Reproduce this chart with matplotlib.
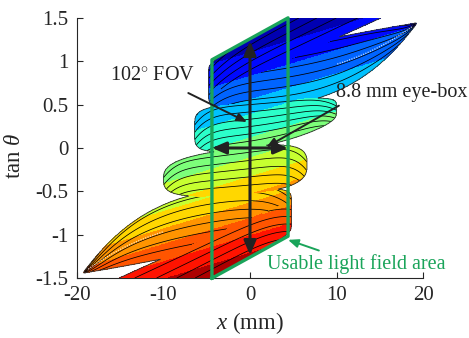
import numpy as np
import matplotlib
matplotlib.use("Agg")
import matplotlib.pyplot as plt
from matplotlib.colors import ListedColormap

plt.rcParams["font.family"] = "Liberation Serif"
plt.rcParams["mathtext.fontset"] = "custom"
plt.rcParams["mathtext.rm"] = "Liberation Serif"
plt.rcParams["mathtext.it"] = "Liberation Serif:italic"

# ── elemental light-field patches (x in mm, y = tan(theta)) ─────────────────
# each patch runs from a blunt end to a far end; edges given as [low, high]
# order = drawing order (later ones sit on top)
patch_x_blunt = [-4.8, -4.8, 4.8, 4.8, -10.0, -6.4]
patch_x_far   = [19.2, 22.0, -19.2, -22.0, 6.6, 10.0]
patch_lo_blunt = [0.46, 0.60, -1.00, -0.996, -0.60, -0.06]
patch_hi_blunt = [1.00, 0.996, -0.46, -0.60, -0.12, 0.47]
patch_lo_far = [1.42, 1.81, -1.45, -2.47, -0.47, 0.30]
patch_hi_far = [1.45, 2.47, -1.42, -1.81, 0.10, 0.60]
patch_k_lo = [3.3, 1.0, 1.0, 1.0, 1.0, 2.0]
patch_k_hi = [1.0, 1.0, 3.3, 1.0, 1.0, 1.0]
patch_round = [8, 8, 8, 8, 3, 5]
patch_colour_shift = [0.0, 0.0, 0.0, 0.0, -0.1, -0.1]

# colour field: tan(theta) - shear * x, banded (jet positions per band)
shear = 0.03
band_edges = [-1.2, -1.0, -0.8, -0.62, -0.42, -0.2, 0.03, 0.30, 0.57, 0.84, 1.11]
band_jet = [0.96, 0.89, 0.82, 0.75, 0.68, 0.59, 0.50, 0.405, 0.315, 0.225, 0.135, 0.045]

# eye-box / field of view
eyebox = 8.8            # mm
fov_deg = 102.0
lf_half = 1.26          # usable light-field parallelogram, half height at x=0
lf_slope = 0.055

# ── grid ────────────────────────────────────────────────────────────────────
xg = np.linspace(-20, 20, 900)
yg = np.linspace(-1.5, 1.5, 700)
X, Y = np.meshgrid(xg, yg)

n_band = len(band_jet)
jet = plt.get_cmap("jet")
cmap = ListedColormap([jet(p) for p in band_jet])
band_levels = np.arange(-0.5, n_band, 1.0)

fig = plt.figure(figsize=(4.69, 3.38), dpi=100)
ax = fig.add_axes([77 / 469, 60 / 338, 346 / 469, 260 / 338])

union = np.zeros_like(X, dtype=bool)
for i in range(len(patch_x_blunt)):
    xb, xf = patch_x_blunt[i], patch_x_far[i]
    tau = (X - xb) / (xf - xb)
    in_x = (tau >= 0) & (tau <= 1)
    tc = np.clip(tau, 0, 1)
    lo = patch_lo_blunt[i] + (patch_lo_far[i] - patch_lo_blunt[i]) * tc ** patch_k_lo[i]
    hi = patch_hi_blunt[i] + (patch_hi_far[i] - patch_hi_blunt[i]) * tc ** patch_k_hi[i]
    v = (Y - lo) / np.maximum(hi - lo, 1e-4)
    xi = 2 * tc - 1
    r = patch_round[i]
    shape = np.abs(xi) ** r + np.abs(2 * v - 1) ** r
    inside = in_x & (shape < 1)
    union |= inside
    band = np.digitize(Y - shear * X + patch_colour_shift[i], band_edges).astype(float)
    G = v + 0.35 * np.abs(xi) ** 6
    z = 2 + i
    ax.contourf(X, Y, np.ma.masked_where(~inside, band), levels=band_levels,
                cmap=cmap, vmin=-0.5, vmax=n_band - 0.5, zorder=z)
    dv = 0.085 / (patch_hi_blunt[i] - patch_lo_blunt[i])
    ax.contour(X, Y, np.ma.masked_where(~inside, G),
               levels=np.arange(dv, 1.4, dv), colors="k",
               linewidths=0.55, zorder=z + 0.5)
    if patch_k_lo[i] > 3 or patch_k_hi[i] > 3:
        # faint light streak along the horn of the long patches
        ts = np.linspace(0.62, 0.985, 40)
        xs = xb + (xf - xb) * ts
        ys = 0.5 * (patch_lo_blunt[i] + (patch_lo_far[i] - patch_lo_blunt[i]) * ts ** patch_k_lo[i]
                    + patch_hi_blunt[i] + (patch_hi_far[i] - patch_hi_blunt[i]) * ts ** patch_k_hi[i])
        ax.plot(xs, ys, color="white", lw=0.9, ls=(0, (1, 1)), alpha=0.75, zorder=z + 0.6)

ax.contour(X, Y, union.astype(float), levels=[0.5], colors="#333333",
           linewidths=0.6, zorder=9)

# usable light field area
green = "#1aa45a"
px = np.array([-eyebox / 2, -eyebox / 2, eyebox / 2, eyebox / 2, -eyebox / 2])
py = np.array([-lf_half, lf_half, lf_half, -lf_half, -lf_half]) + lf_slope * px
ax.plot(px, py, color=green, lw=2.4, zorder=10, clip_on=False)

# FOV and eye-box arrows
t = np.tan(np.radians(fov_deg / 2))
dark = "#222222"
ax.annotate("", xy=(0, t), xytext=(0, -t),
            arrowprops=dict(arrowstyle="<|-|>,head_length=0.7,head_width=0.3",
                            color=dark, lw=2.2, mutation_scale=12,
                            shrinkA=0, shrinkB=0), zorder=11)
ax.annotate("", xy=(eyebox / 2, 0), xytext=(-eyebox / 2, 0),
            arrowprops=dict(arrowstyle="<|-|>,head_length=0.7,head_width=0.3",
                            color=dark, lw=2.2, mutation_scale=12,
                            shrinkA=0, shrinkB=0), zorder=11)

ax.annotate("102$^{\\circ}$ FOV", xy=(-0.35, 0.30), xytext=(-11.3, 0.84),
            fontsize=14.5, ha="center", va="center", color="#222222",
            arrowprops=dict(arrowstyle="-|>,head_length=0.6,head_width=0.25",
                            color=dark, lw=1.4, mutation_scale=10,
                            shrinkA=9, shrinkB=0), zorder=12)
ax.annotate("8.8 mm eye-box", xy=(1.9, 0.01), xytext=(9.9, 0.646),
            fontsize=14.5, ha="left", va="center", color="#222222",
            arrowprops=dict(arrowstyle="-|>,head_length=0.6,head_width=0.25",
                            color=dark, lw=1.4, mutation_scale=10,
                            shrinkA=2, shrinkB=0, relpos=(0.08, 0)), zorder=12)
ax.annotate("Usable light field area", xy=(4.4, -1.06), xytext=(1.97, -1.34),
            fontsize=14.5, ha="left", va="center", color=green,
            arrowprops=dict(arrowstyle="-|>,head_length=0.6,head_width=0.25",
                            color=green, lw=1.4, mutation_scale=10,
                            shrinkA=2, shrinkB=0, relpos=(0.35, 1.0)), zorder=12)

ax.set_xlim(-20, 20)
ax.set_ylim(-1.5, 1.5)
ax.set_xticks([-20, -10, 0, 10, 20])
ax.set_xticklabels(["-20", "-10", "0", "10", "20"])
ax.set_yticks([-1.5, -1, -0.5, 0, 0.5, 1, 1.5])
ax.set_yticklabels(["-1.5", "-1", "-0.5", "0", "0.5", "1", "1.5"])
ax.tick_params(direction="in", length=4, width=0.8, labelsize=15,
               colors="#262626", pad=6)
for side in ("top", "right"):
    ax.spines[side].set_visible(False)
for side in ("left", "bottom"):
    ax.spines[side].set_color("#262626")
    ax.spines[side].set_linewidth(0.8)
ax.set_xlabel("$x$ (mm)", fontsize=16.5, color="#262626")
ax.set_ylabel("tan $\\theta$", fontsize=16.5, color="#262626")
ax.xaxis.set_label_coords(0.5, -0.125)
ax.yaxis.set_label_coords(-0.15, 0.47)

fig.savefig("out.png", dpi=100, facecolor="white")
